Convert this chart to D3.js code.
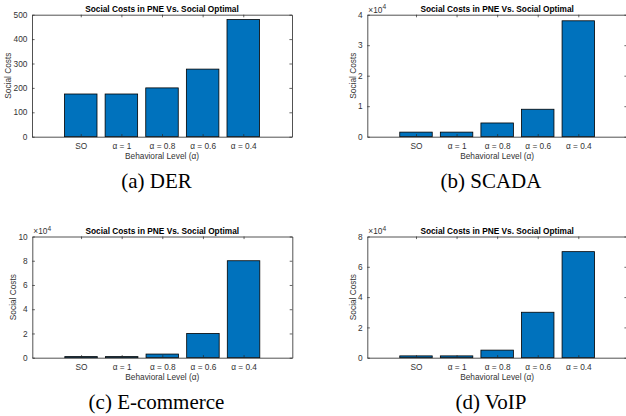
<!DOCTYPE html>
<html>
<head>
<meta charset="utf-8">
<script src="https://cdn.jsdelivr.net/npm/d3@7"></script>
<style>
  html, body { margin: 0; padding: 0; background: #fff; }
  svg { display: block; }
</style>
</head>
<body>
<svg id="chart" width="626" height="416"></svg>
<script>
// ---- data ----
const categories = ["SO", "α = 1", "α = 0.8", "α = 0.6", "α = 0.4"];
const derValues = [175, 175, 200, 277, 480];
const scadaValues = [1500, 1500, 4500, 9000, 38000];
const ecomValues = [900, 900, 3000, 20000, 80000];
const voipValues = [1200, 1200, 5000, 30000, 70000];
const derTicks = [0, 100, 200, 300, 400, 500];
const scadaTicks = [0, 10000, 20000, 30000, 40000];
const ecomTicks = [0, 20000, 40000, 60000, 80000, 100000];
const voipTicks = [0, 20000, 40000, 60000, 80000];
const captions = ["(a) DER", "(b) SCADA", "(c) E-commerce", "(d) VoIP"];
const titleText = "Social Costs in PNE Vs. Social Optimal";
const xTitle = "Behavioral Level (α)";
const yTitle = "Social Costs";

const panels = [
  { values: derValues, ticks: derTicks, exp: 0, box: [32, 14.7, 292, 136.7], cap: [156.5, 188] },
  { values: scadaValues, ticks: scadaTicks, exp: 4, box: [367.3, 14.7, 627, 136.7], cap: [491, 188] },
  { values: ecomValues, ticks: ecomTicks, exp: 4, box: [32.3, 236.5, 292.3, 357.7], cap: [156.5, 408.5] },
  { values: voipValues, ticks: voipTicks, exp: 4, box: [367.3, 236.5, 627, 357.7], cap: [491, 408.5] }
];

const svg = d3.select("#chart");
const sans = "'Liberation Sans', Arial, Helvetica, sans-serif";
const serif = "'Liberation Serif', 'Times New Roman', serif";
const axisColor = "#262626";
const textColor = "#333333";
const fs = 8.3;

panels.forEach((p, pi) => {
  const [x0, y0, x1, y1] = p.box;
  const g = svg.append("g");
  const idx = categories.map((c, i) => i + 1);
  const x = d3.scaleLinear().domain([-0.2, 6.2]).range([x0, x1]);
  const yMax = p.ticks[p.ticks.length - 1];
  const y = d3.scaleLinear().domain([0, yMax]).range([y1, y0]);
  const bw = x(0.8) - x(0);

  // bars
  g.selectAll("rect.bar").data(p.values).enter().append("rect")
    .attr("class", "bar")
    .attr("x", (d, i) => x(idx[i]) - bw / 2)
    .attr("y", d => y(d))
    .attr("width", bw)
    .attr("height", d => y(0) - y(d))
    .attr("fill", "#0072BD")
    .attr("stroke", "#000")
    .attr("stroke-width", 0.8);

  const div = Math.pow(10, p.exp);
  const tl = 2.6;

  // left axis
  const yAxisL = d3.axisLeft(y).tickValues(p.ticks).tickSizeInner(-tl).tickSizeOuter(0)
    .tickPadding(2 + tl).tickFormat(d => d3.format("~g")(d / div));
  const gl = g.append("g").attr("transform", `translate(${x0},0)`).call(yAxisL);
  gl.selectAll("text").attr("font-family", sans).attr("font-size", fs).attr("fill", textColor);
  gl.selectAll("line").attr("stroke", axisColor).attr("stroke-width", 0.7);
  gl.select(".domain").attr("stroke", axisColor).attr("stroke-width", 0.8);

  // right axis (ticks only, mirrored)
  const yAxisR = d3.axisRight(y).tickValues(p.ticks).tickSizeInner(-tl).tickSizeOuter(0).tickFormat("");
  const gr = g.append("g").attr("transform", `translate(${x1},0)`).call(yAxisR);
  gr.selectAll("line").attr("stroke", axisColor).attr("stroke-width", 0.7);
  gr.select(".domain").attr("stroke", axisColor).attr("stroke-width", 0.8);

  // bottom axis
  const xAxisB = d3.axisBottom(x).tickValues(idx).tickSizeInner(-tl).tickSizeOuter(0)
    .tickPadding(2 + tl + 2).tickFormat((d, i) => categories[i]);
  const gb = g.append("g").attr("transform", `translate(0,${y1})`).call(xAxisB);
  gb.selectAll("text").attr("font-family", sans).attr("font-size", fs).attr("fill", textColor);
  gb.selectAll("line").attr("stroke", axisColor).attr("stroke-width", 0.7);
  gb.select(".domain").attr("stroke", axisColor).attr("stroke-width", 0.8);

  // top axis
  const xAxisT = d3.axisTop(x).tickValues(idx).tickSizeInner(-tl).tickSizeOuter(0).tickFormat("");
  const gt = g.append("g").attr("transform", `translate(0,${y0})`).call(xAxisT);
  gt.selectAll("line").attr("stroke", axisColor).attr("stroke-width", 0.7);
  gt.select(".domain").attr("stroke", axisColor).attr("stroke-width", 0.8);

  // exponent label
  if (p.exp) {
    const t = g.append("text").attr("x", x0 + 1).attr("y", y0 - 2.2)
      .attr("font-family", sans).attr("font-size", fs).attr("fill", textColor);
    t.append("tspan").text("×10");
    t.append("tspan").attr("dy", -3.2).attr("font-size", fs * 0.8).text(p.exp);
  }

  // title
  g.append("text").attr("x", (x0 + Math.min(x1, 627)) / 2).attr("y", y0 - 2.8)
    .attr("text-anchor", "middle").attr("font-family", sans).attr("font-size", fs)
    .attr("font-weight", "bold").attr("fill", "#000").text(titleText);

  // x title
  g.append("text").attr("x", (x0 + x1) / 2).attr("y", y1 + 22.3)
    .attr("text-anchor", "middle").attr("font-family", sans).attr("font-size", fs)
    .attr("fill", textColor).text(xTitle);

  // y title: positioned left of widest tick label
  let maxW = 0;
  gl.selectAll("text").each(function () { maxW = Math.max(maxW, this.getComputedTextLength()); });
  const yl = x0 - 2 - tl - 0 - maxW - 2.2;
  g.append("text").attr("transform", `translate(${yl},${(y0 + y1) / 2}) rotate(-90)`)
    .attr("text-anchor", "middle").attr("font-family", sans).attr("font-size", fs)
    .attr("fill", textColor).text(yTitle);

  // caption
  svg.append("text").attr("x", p.cap[0]).attr("y", p.cap[1])
    .attr("text-anchor", "middle").attr("font-family", serif).attr("font-size", 21)
    .attr("fill", "#000").text(captions[pi]);
});
</script>
</body>
</html>
